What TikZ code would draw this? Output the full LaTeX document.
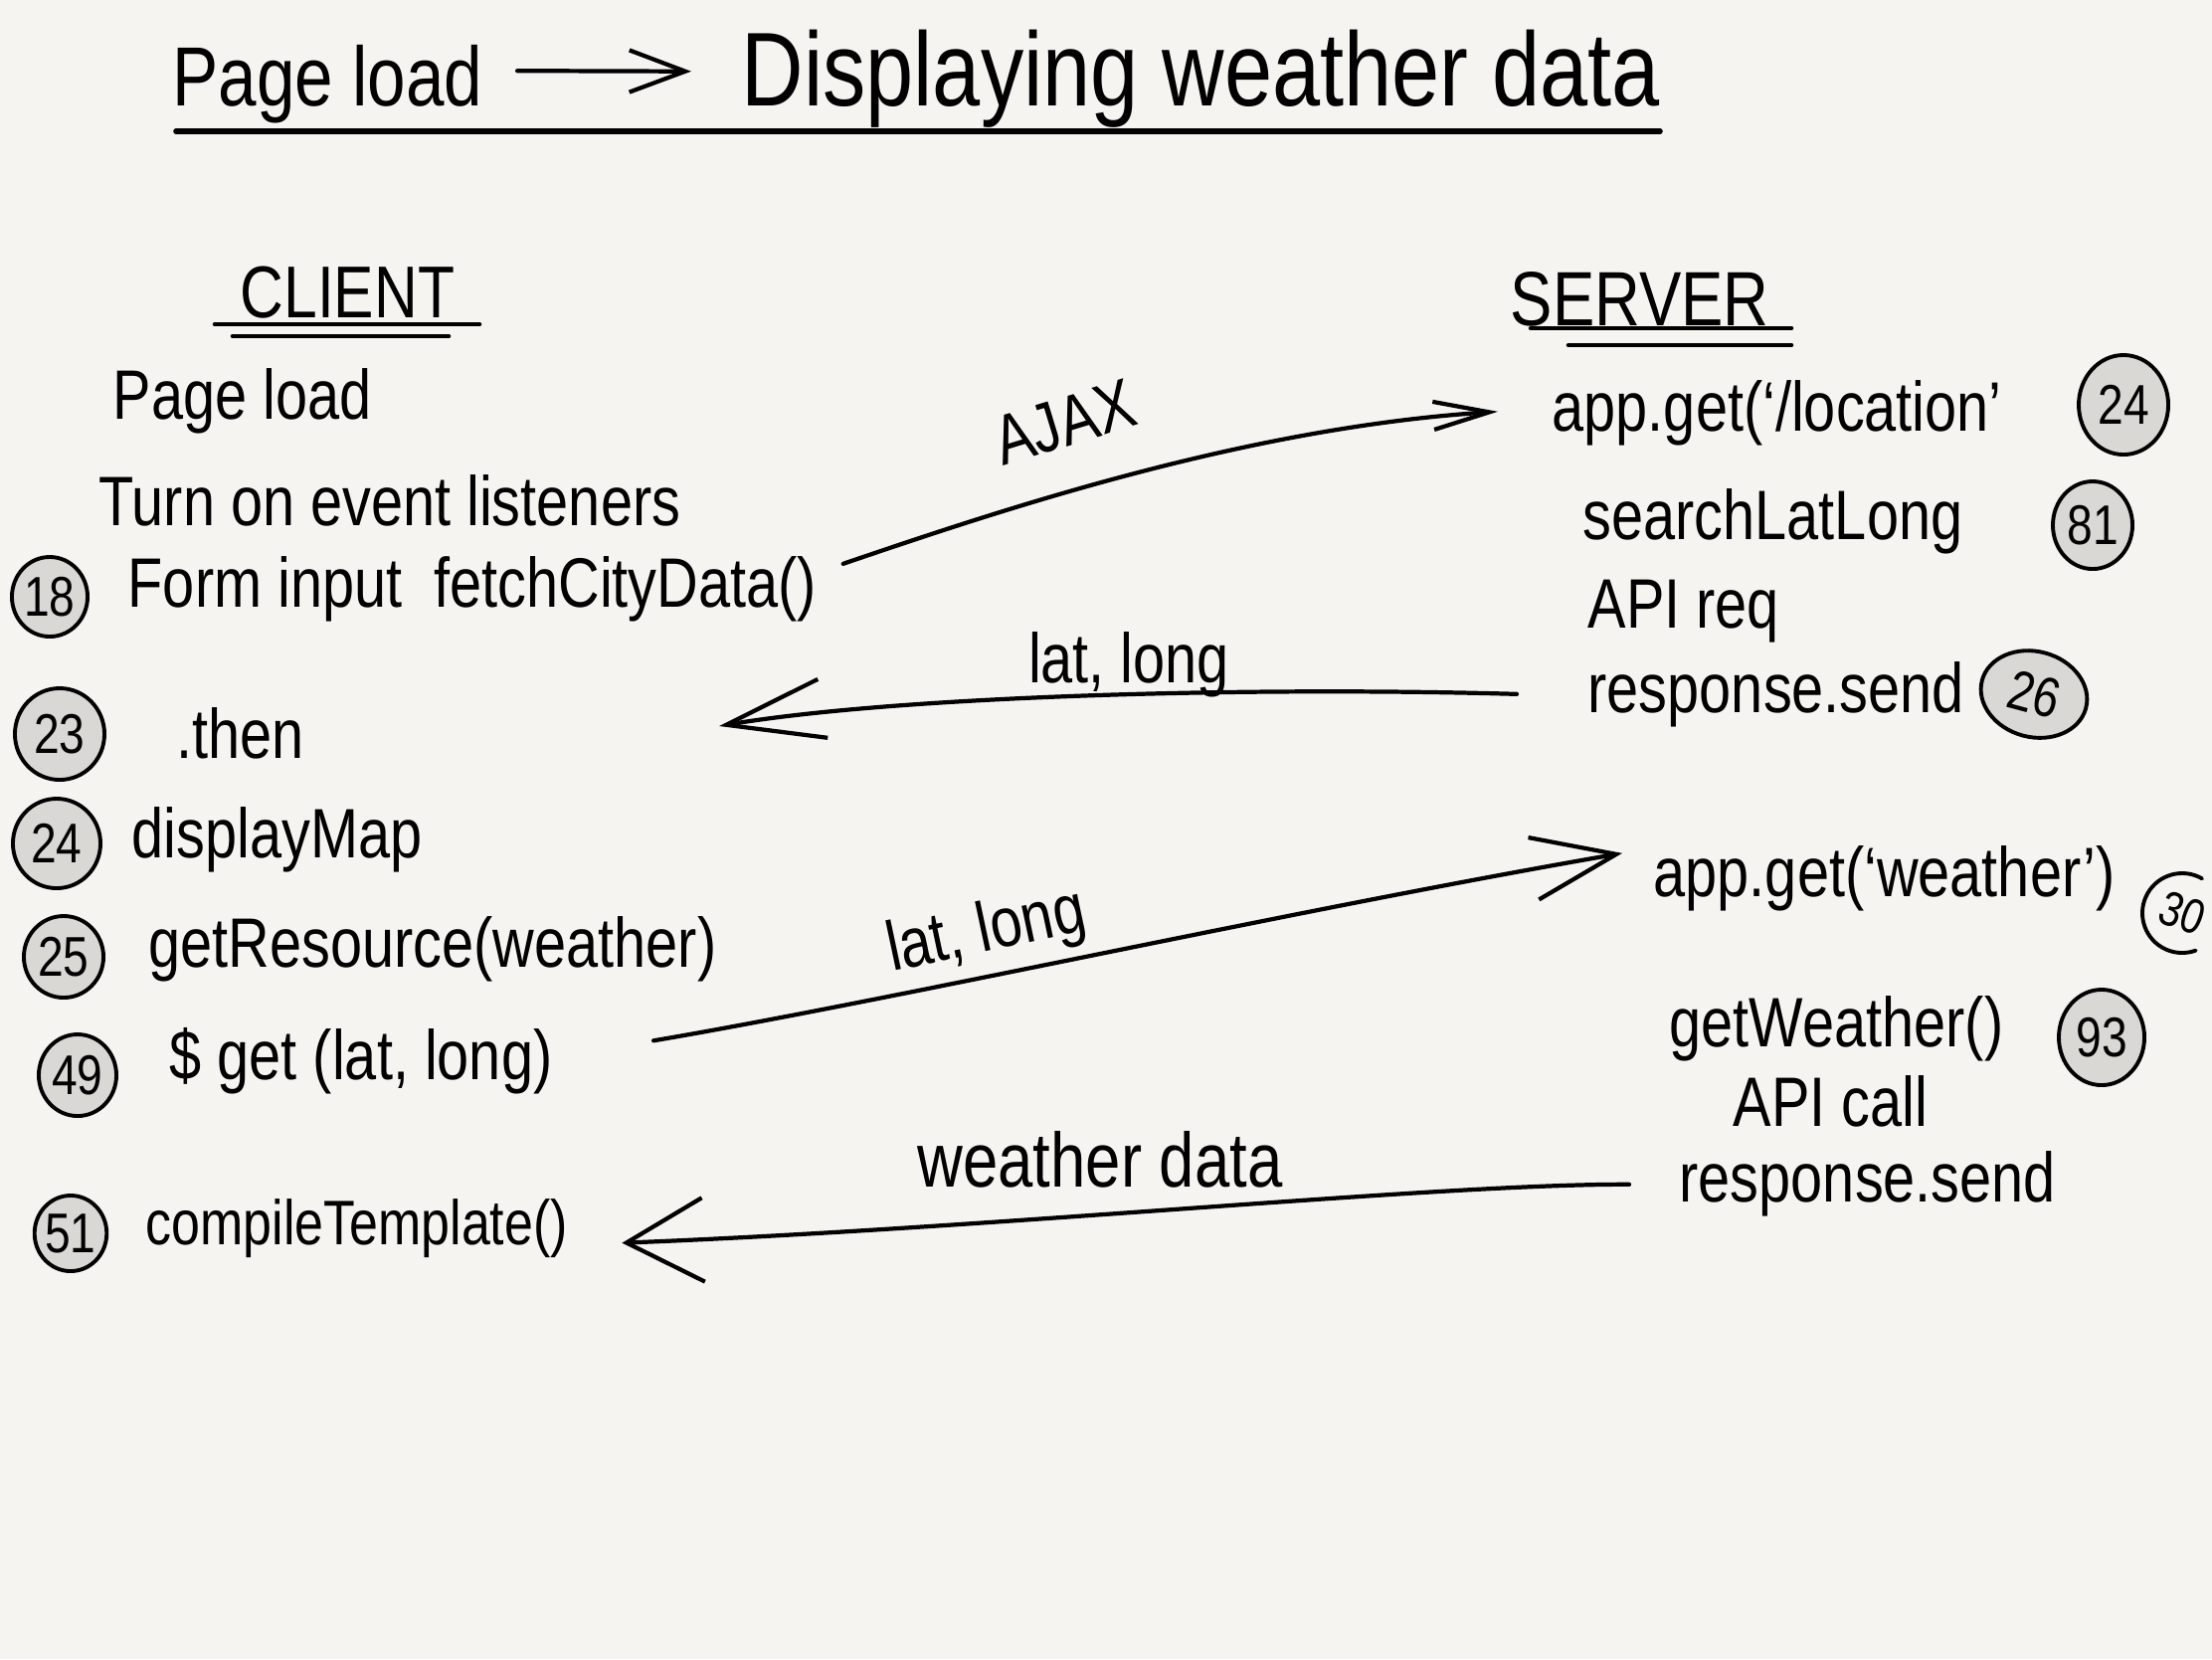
\documentclass[tikz,border=0pt]{standalone}
\usepackage{fontspec}
\setmainfont{Liberation Sans}[FakeStretch=0.82]
\usetikzlibrary{arrows.meta,shapes.geometric}
\definecolor{paper}{HTML}{F5F4F0}
\definecolor{disc}{HTML}{D9D8D5}
\begin{document}
\begin{tikzpicture}[x=0.01cm,y=-0.01cm,
  hw/.style={inner sep=0pt,anchor=base west,font=\fontsize{#1}{#1}\selectfont},
  hw/.default=20,
  lbl/.style={inner sep=0pt,font=\fontsize{#1}{#1}\selectfont},
  num/.style={ellipse,draw,line width=1.1pt,fill=disc,inner sep=0pt,font=\fontsize{16}{16}\selectfont},
  conn/.style={line width=1.2pt,line cap=round,line join=round},
  rule/.style={line width=#1,line cap=round}]
\fill[paper] (0,0) rectangle (2224,1668);
\useasboundingbox (0,0) rectangle (2224,1668);

% title
\node[hw=24] (tpage) at (173,106) {Page load};
\node[hw=30] (tdisp) at (745,106) {Displaying weather data};
\draw[conn,-{Straight Barb[length=16pt,width=12pt]}] ([shift={(34,-13)}]tpage.east) -- ([shift={(-50,-7)}]tdisp.west);
\draw[rule=1.6pt] (177,132) -- (1669,132);

% headings
\node[hw=21] (client) at (241,319) {CLIENT};
\draw[rule=1.3pt] (216,326) -- (482,326);
\draw[rule=1.3pt] (234,338) -- (451,338);
\node[hw=22] (server) at (1518,327) {SERVER};
\draw[rule=1.3pt] (1539,330) -- (1801,330);
\draw[rule=1.3pt] (1577,347) -- (1801,347);

% client column
\node[hw] (cpage) at (113,421) {Page load};
\node[hw] (listen) at (99,528) {Turn on event listeners};
\node[hw] (fetch) at (128,610) {Form input\ \ fetchCityData()};
\node[hw] (then) at (177,762) {.then};
\node[hw] (dmap) at (132,862) {displayMap};
\node[hw] (getres) at (149,972) {getResource(weather)};
\node[hw] (getll) at (170,1085) {\$ get (lat, long)};
\node[hw=18] (ctpl) at (146,1251) {compileTemplate()};

\node[num,minimum width=0.76cm,minimum height=0.80cm] (n18) at (50,600) {18};
\node[num,minimum width=0.90cm,minimum height=0.92cm] (n23) at (60,738) {23};
\node[num,minimum width=0.88cm,minimum height=0.90cm] (n24c) at (57,848) {24};
\node[num,minimum width=0.80cm,minimum height=0.82cm] (n25) at (64,962) {25};
\node[num,minimum width=0.78cm,minimum height=0.82cm] (n49) at (78,1081) {49};
\node[num,minimum width=0.72cm,minimum height=0.76cm] (n51) at (71,1240) {51};

% server column
\node[hw] (loc) at (1560,433) {app.get(`/location'};
\node[hw] (search) at (1591,542) {searchLatLong};
\node[hw] (apireq) at (1596,631) {API req};
\node[hw] (resp1) at (1596,716) {response.send};
\node[hw] (appw) at (1662,901) {app.get(`weather')};
\node[hw] (getw) at (1678,1052) {getWeather()};
\node[hw] (apicall) at (1742,1132) {API call};
\node[hw] (resp2) at (1688,1208) {response.send};

\node[num,minimum width=0.90cm,minimum height=1.00cm] (n24s) at (2135,407) {24};
\node[num,minimum width=0.80cm,minimum height=0.88cm] (n81) at (2104,528) {81};
\node[num,minimum width=1.08cm,minimum height=0.86cm,rotate=-15] (n26) at (2045,698) {26};
\node[num,minimum width=0.86cm,minimum height=0.96cm] (n93) at (2113,1043) {93};
\node[inner sep=0pt,rotate=-20,font=\fontsize{14}{14}\selectfont] (n30) at (2194,918) {30};
\draw[line width=1.1pt,line cap=round] ([shift={(60:0.40cm)}]2194,918) arc[start angle=60,end angle=290,radius=0.40cm];

% connectors
\coordinate (latIn) at (723,730);
\draw[conn,-{Straight Barb[length=16pt,width=8pt]}]
  ([shift={(26,-25)}]fetch.east) .. controls (1000,515) and (1250,430) .. ([shift={(-54,-1)}]loc.west);
\node[lbl=20,rotate=17] (ajax) at (1070,425) {AJAX};

\draw[conn,-{Straight Barb[length=28pt,width=17pt]}]
  ([shift={(-71,0)}]resp1.west) .. controls (1250,690) and (900,700) .. (latIn);
\node[lbl=20] (ll1) at (1135,668) {lat, long};

\draw[conn,-{Straight Barb[length=24pt,width=18pt]}]
  ([shift={(101,-20)}]getll.east) .. controls (900,1005) and (1300,915) .. ([shift={(-31,-25)}]appw.west);
\node[lbl=20,rotate=12] (ll2) at (992,938) {lat, long};

\draw[conn,-{Straight Barb[length=22pt,width=24pt]}]
  ([shift={(-50,1)}]resp2.west) .. controls (1450,1190) and (1000,1235) .. ([shift={(54,15)}]ctpl.east);
\node[lbl=22] (wdata) at (1106,1166) {weather data};
\end{tikzpicture}
\end{document}
